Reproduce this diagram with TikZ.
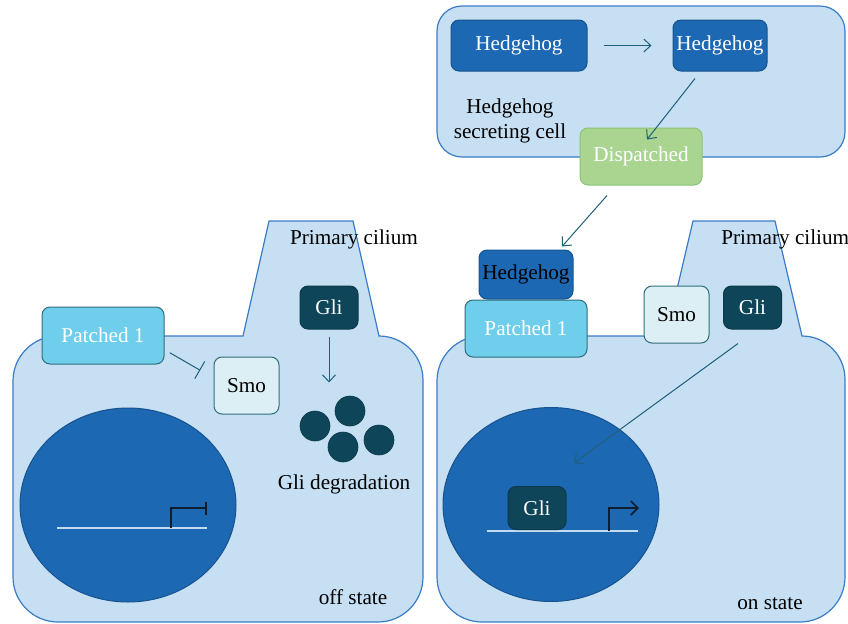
\documentclass[tikz,border=0pt]{standalone}
\usepackage{fontspec}
\setmainfont{Liberation Serif}
\usetikzlibrary{shapes.geometric,arrows.meta,calc}
\definecolor{cellfill}{HTML}{C6DFF2}
\definecolor{cellline}{HTML}{3A7CC6}
\definecolor{nucfill}{HTML}{1C68B3}
\definecolor{nucline}{HTML}{17548F}
\definecolor{ptfill}{HTML}{6ECEEC}
\definecolor{tealline}{HTML}{2F6E7A}
\definecolor{smofill}{HTML}{DCEFF4}
\definecolor{glifill}{HTML}{0E4558}
\definecolor{gliline}{HTML}{0B3A4A}
\definecolor{dispfill}{HTML}{A9D591}
\definecolor{displine}{HTML}{8CC472}
\definecolor{arrcol}{HTML}{1F5F78}
\definecolor{dnacol}{HTML}{C4DCF2}
\definecolor{promcol}{HTML}{0F1E2E}
\tikzset{
  x=0.5pt, y=-0.5pt,
  every node/.style={font=\fontsize{10.6}{12.5}\selectfont, inner sep=0pt},
  cellshape/.style={fill=cellfill, draw=cellline, line width=0.6pt},
  nucleus/.style={ellipse, fill=nucfill, draw=nucline, line width=0.5pt, minimum width=108pt, minimum height=97pt},
  hhbox/.style={rounded corners=4pt, fill=nucfill, draw=nucline, line width=0.5pt, text=white, minimum height=25.5pt},
  ptbox/.style={rounded corners=4pt, fill=ptfill, draw=tealline, line width=0.5pt, text=white, minimum width=61pt, minimum height=28.5pt},
  smobox/.style={rounded corners=4pt, fill=smofill, draw=tealline, line width=0.5pt, text=black, minimum width=32.5pt, minimum height=28.5pt},
  glibox/.style={rounded corners=4pt, fill=glifill, draw=gliline, line width=0.5pt, text=white, minimum width=29pt, minimum height=21.5pt},
  dispbox/.style={rounded corners=4pt, fill=dispfill, draw=displine, line width=0.5pt, text=white, minimum width=61pt, minimum height=28.5pt},
  dot/.style={circle, fill=glifill, draw=gliline, line width=0.3pt, minimum size=15pt},
  arr/.style={draw=arrcol, line width=0.5pt, -{Straight Barb[length=3.5pt,width=6.5pt]}},
  inhib/.style={draw=arrcol, line width=0.5pt, -{Bar[width=10pt]}},
  dna/.style={draw=dnacol, line width=0.6pt},
  prom/.style={draw=promcol, line width=0.8pt},
}
\begin{document}
\begin{tikzpicture}
\useasboundingbox (0,0) rectangle (848,623);
% ---------- top cell ----------
\path[cellshape, rounded corners=12.5pt] (437,6) rectangle (845,157);
\node[hhbox, minimum width=68pt] (hh1) at (519,45.5) {Hedgehog};
\node[hhbox, minimum width=47pt] (hh2) at (720,45.5) {Hedgehog};
\node[align=center] (sec) at (510,121) {Hedgehog\\secreting cell};
% ---------- left cell ----------
\path[cellshape] (243,336) -- (269,221) -- (353,221) -- (379,336)
  .. controls (403.3,336) and (423,355.7) .. (423,380) -- (423,577)
  .. controls (423,601.8) and (402.8,622) .. (378,622) -- (58,622)
  .. controls (33.2,622) and (13,601.8) .. (13,577) -- (13,381)
  .. controls (13,356.2) and (33.2,336) .. (58,336) -- cycle;
\node[nucleus] (nuc1) at (128,505) {};
\draw[dna] (57,528) -- (207,528);
\draw[prom, -{Bar[width=6.5pt]}] (171,528) -- (171,508) -- (207,508);
\node[ptbox] (pt1) at (103,335.5) {Patched 1};
\node[smobox] (smo1) at (246.5,385.5) {Smo};
\node[glibox] (gli1) at (329,307.5) {Gli};
\node[dot] (c1) at (315,426) {};
\node[dot] (c2) at (350,411) {};
\node[dot] (c3) at (343,447) {};
\node[dot] (c4) at (379,440) {};
\node (deg) at (344,484) {Gli degradation};
\node (pc1) at (354,239) {Primary cilium};
\node (off) at (353,597) {off state};
\draw[inhib] ([shift={(2.65pt,-8.6pt)}]pt1.east) -- ([shift={(-6.65pt,7.6pt)}]smo1.west);
\draw[arr] ([yshift=-3.5pt]gli1.south) -- ([yshift=-26.5pt]gli1.south);
% ---------- right cell ----------
\path[cellshape] (666,336) -- (693,221) -- (775,221) -- (802,336)
  .. controls (825.7,336) and (845,355.3) .. (845,379) -- (845,577)
  .. controls (845,601.8) and (824.8,622) .. (800,622) -- (482,622)
  .. controls (457.2,622) and (437,601.8) .. (437,577) -- (437,381)
  .. controls (437,356.2) and (457.2,336) .. (482,336) -- cycle;
\node[nucleus] (nuc2) at (551,504.5) {};
\draw[dna] (487,531) -- (638,531);
\draw[prom, -{Straight Barb[length=3.5pt,width=7pt]}] (609,531) -- (609,508) -- (639,508);
\node[glibox] (gli3) at (537,508) {Gli};
\node[hhbox, minimum width=47pt, minimum height=24.5pt, text=black] (hh3) at (526,274.5) {Hedgehog};
\node[ptbox] (pt2) at (526,328.5) {Patched 1};
\node[smobox] (smo2) at (676.5,314.5) {Smo};
\node[glibox] (gli2) at (752.5,307.5) {Gli};
\node[anchor=west] (pc2) at (721,239) {Primary cilium};
\node (on) at (770,604) {on state};
\draw[arr] ([shift={(-7.25pt,-7pt)}]gli2.south) -- ([shift={(11.5pt,20.75pt)}]nuc2.center);
% ---------- dispatched ----------
\node[dispbox] (disp) at (641,156.5) {Dispatched};
\draw[arr] ([xshift=8pt]hh1.east) -- ([xshift=-10.5pt]hh2.west);
\draw[arr] ([shift={(-12.5pt,-3.5pt)}]hh2.south) -- ([shift={(3pt,-6pt)}]disp.north);
\draw[arr] ([shift={(-17pt,-5pt)}]disp.south) -- ([shift={(18pt,1.5pt)}]hh3.north);
\end{tikzpicture}
\end{document}
